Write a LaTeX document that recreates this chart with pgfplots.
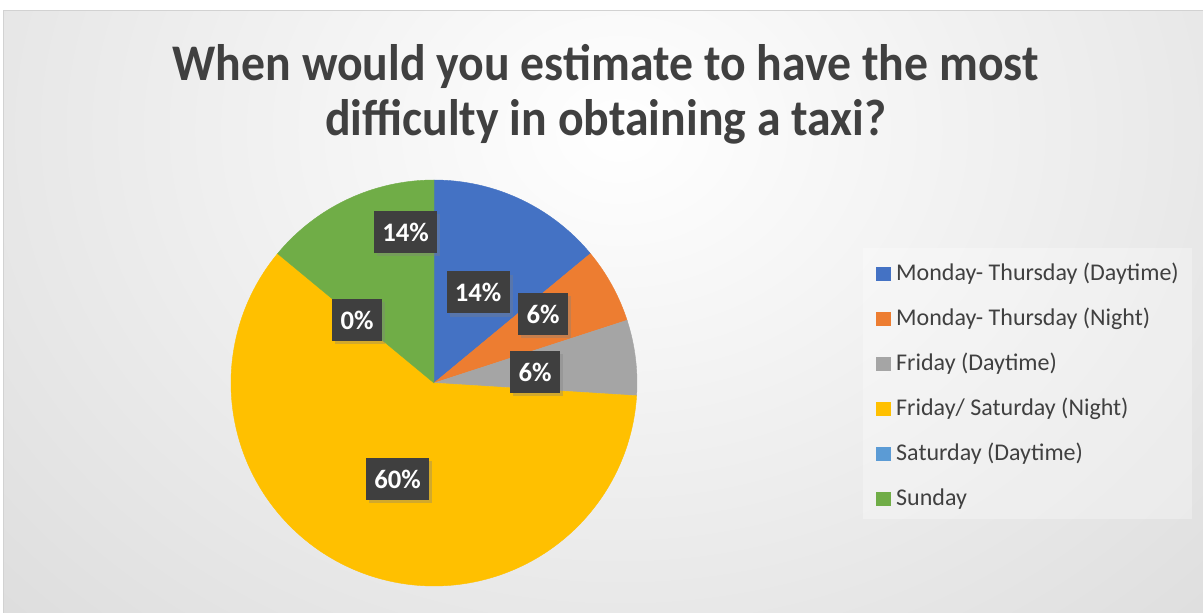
\documentclass[border=0pt]{standalone}
\usepackage{pgfplots}
\pgfplotsset{compat=1.18}
\usepackage{pgfplotstable}
\usepackage{fontspec}
\setmainfont{Carlito}
\newfontfamily\titlefont[FakeStretch=0.93]{Carlito}
\usetikzlibrary{shadows}
\definecolor{cMTD}{HTML}{4472C4}
\definecolor{cMTN}{HTML}{ED7D31}
\definecolor{cFD}{HTML}{A5A5A5}
\definecolor{cFSN}{HTML}{FFC000}
\definecolor{cSD}{HTML}{5B9BD5}
\definecolor{cSun}{HTML}{70AD47}
\definecolor{txt}{HTML}{404040}
\definecolor{bgout}{HTML}{C4C4C4}
\definecolor{lbl}{HTML}{3F3F3F}
\pgfdeclareradialshading{bgshade}{\pgfpoint{0bp}{0bp}}{color(0bp)=(white); color(50bp)=(bgout)}

% share of answers, in percent, in legend order
\pgfplotstableread{
pct
14
6
6
60
0
14
}\piedata

\newcommand\getpct[2]{\pgfplotstablegetelem{#1}{pct}\of\piedata\edef#2{\pgfplotsretval}}

\begin{document}%
\begin{tikzpicture}
\getpct{0}\pa\getpct{1}\pb\getpct{2}\pc\getpct{3}\pd\getpct{4}\pe\getpct{5}\pf
\pgfmathsetmacro\aA{90}
\pgfmathsetmacro\aB{\aA-3.6*\pa}
\pgfmathsetmacro\aC{\aB-3.6*\pb}
\pgfmathsetmacro\aD{\aC-3.6*\pc}
\pgfmathsetmacro\aE{\aD-3.6*\pd}
\pgfmathsetmacro\aF{\aE-3.6*\pe}
\pgfmathsetmacro\aG{\aF-3.6*\pf}
\begin{axis}[
  scale only axis, width=902.25pt, height=459.75pt,
  xmin=0, xmax=1203, ymin=0, ymax=613,
  hide axis, clip=false,
  title={When would you estimate to have the most\\difficulty in obtaining a taxi?},
  title style={at={(axis description cs:0.5035,0.915)}, anchor=north, align=center,
    font=\titlefont\bfseries\fontsize{38.5}{41.6}\selectfont, text=txt, inner sep=0pt},
  legend style={at={(0.72818,0.57259)}, anchor=north west, draw=none, fill=none,
    inner sep=0pt, outer sep=0pt, font=\fontsize{18}{18}\selectfont, text=txt,
    row sep=15.75pt, column sep=4.5pt,
    nodes={inner sep=0pt, text height=13.5pt, text depth=4.5pt}},
  legend cell align=left,
  legend image code/.code={\fill[#1] (0pt,-4.5pt) rectangle (10.25pt,4.75pt);},
]
\coordinate (bbsw) at (axis cs:0,0);
\coordinate (bbne) at (axis cs:1203,613);
% background
\begin{scope}
\clip (axis cs:4,0) rectangle (axis cs:1203,602);
\shade[shading=bgshade] (axis cs:-140,-137) rectangle (axis cs:1380,1103);
\end{scope}
\draw[gray!35, line width=0.75pt] (axis cs:4,0) -- (axis cs:4,602) -- (axis cs:1203,602);
\fill[white, opacity=0.3] (axis cs:863,94) rectangle (axis cs:1192,365);
% slices
\addplot[fill=cMTD, draw=cMTD, line width=0.3pt, domain=\aB:\aA, samples=80] ({434+203*cos(x)},{230+203*sin(x)}) -- (axis cs:434,230) -- cycle;
\addlegendentry{Monday- Thursday (Daytime)}
\addplot[fill=cMTN, draw=cMTN, line width=0.3pt, domain=\aC:\aB, samples=40] ({434+203*cos(x)},{230+203*sin(x)}) -- (axis cs:434,230) -- cycle;
\addlegendentry{Monday- Thursday (Night)}
\addplot[fill=cFD, draw=cFD, line width=0.3pt, domain=\aD:\aC, samples=40] ({434+203*cos(x)},{230+203*sin(x)}) -- (axis cs:434,230) -- cycle;
\addlegendentry{Friday (Daytime)}
\addplot[fill=cFSN, draw=cFSN, line width=0.3pt, domain=\aE:\aD, samples=200] ({434+203*cos(x)},{230+203*sin(x)}) -- (axis cs:434,230) -- cycle;
\addlegendentry{Friday/ Saturday (Night)}
\addlegendimage{fill=cSD, draw=cSD}
\addlegendentry{Saturday (Daytime)}
\addplot[fill=cSun, draw=cSun, line width=0.3pt, domain=\aG:\aF, samples=80] ({434+203*cos(x)},{230+203*sin(x)}) -- (axis cs:434,230) -- cycle;
\addlegendentry{Sunday}
% data labels
\tikzset{dl/.style={fill=lbl, text=white, font=\bfseries\fontsize{20}{20}\selectfont,
  inner xsep=0pt, inner ysep=0pt, minimum height=31.5pt,
  drop shadow={shadow xshift=2.5pt, shadow yshift=-2.5pt, opacity=0.35}},
  dlw/.style={dl, minimum width=47.25pt}, dln/.style={dl, minimum width=37.5pt}}
\node[dlw] at (axis cs:478,320.5) {\pa\%};
\node[dln] at (axis cs:543,299) {\pb\%};
\node[dln] at (axis cs:535,241) {\pc\%};
\node[dlw] at (axis cs:397.5,134) {\pd\%};
\node[dln] at (axis cs:357,293) {\pe\%};
\node[dlw] at (axis cs:405.5,381) {\pf\%};
\end{axis}
\pgfresetboundingbox
\path (bbsw) rectangle (bbne);
\end{tikzpicture}%
\end{document}
